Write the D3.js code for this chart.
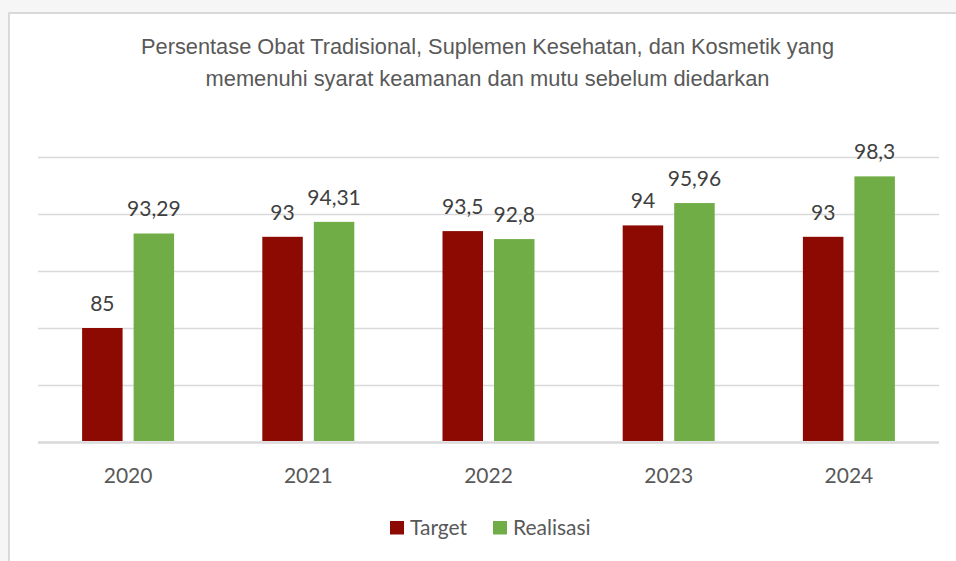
<!DOCTYPE html>
<html>
<head>
<meta charset="utf-8">
<script src="https://cdn.jsdelivr.net/npm/d3@7"></script>
<style>
  html, body { margin: 0; padding: 0; background: #f6f6f6; }
  svg { display: block; }
</style>
</head>
<body>
<div id="chart"></div>
<script>
const years = ["2020", "2021", "2022", "2023", "2024"];
const seriesNames = ["Target", "Realisasi"];
const target = [85, 93, 93.5, 94, 93];
const realisasi = [93.29, 94.31, 92.8, 95.96, 98.3];
const yTicks = [75, 80, 85, 90, 95, 100];
const titleLines = [
    "Persentase Obat Tradisional, Suplemen Kesehatan, dan Kosmetik yang",
    "memenuhi syarat keamanan dan mutu sebelum diedarkan"
];
const titleWidths = [693, 564];
const colors = ["#8c0a02", "#70ad47"];

const W = 956, H = 561;
const margin = { top: 157, left: 38, right: 17, bottom: 119 };
const width = W - margin.left - margin.right,
      height = H - margin.top - margin.bottom;

const svg = d3.select("#chart").append("svg")
    .attr("width", W)
    .attr("height", H);

// chart box
svg.append("rect")
   .attr("x", 9).attr("y", 13)
   .attr("width", W + 10).attr("height", H + 10)
   .attr("fill", "#fff")
   .attr("stroke", "#d9d9d9")
   .attr("stroke-width", 2);

// title (narrow look: squeezed to the measured width)
svg.selectAll(".title")
   .data(titleLines)
   .enter().append("text")
   .attr("class", "title")
   .attr("x", 487.5)
   .attr("y", (d, i) => 54 + i * 31.5)
   .attr("text-anchor", "middle")
   .attr("textLength", (d, i) => titleWidths[i])
   .attr("lengthAdjust", "spacingAndGlyphs")
   .style("font-family", "'Liberation Sans', Arial, sans-serif")
   .style("font-size", "22px")
   .style("fill", "#595959")
   .text(d => d);

const g = svg.append("g").attr("transform", `translate(${margin.left},${margin.top})`);

const x0 = d3.scaleBand().domain(years).range([0, width]).padding(0);
const x1 = d3.scaleBand().domain(seriesNames).range([0, 92]).paddingInner(0.214);
const y = d3.scaleLinear().domain([75, 100]).range([height, 0]);
const color = d3.scaleOrdinal().domain(seriesNames).range(colors);

// gridlines
g.append("g")
 .call(d3.axisLeft(y).tickValues(yTicks).tickSize(-width).tickFormat(""))
 .call(a => a.select(".domain").remove())
 .call(a => a.selectAll("line")
    .attr("stroke", "#d9d9d9")
    .attr("stroke-width", d => d === 75 ? 2.5 : 1.5));

const rows = years.map((yr, i) => ({ year: yr, values: [target[i], realisasi[i]] }));

const groups = g.selectAll(".grp")
    .data(rows)
    .enter().append("g")
    .attr("transform", d => `translate(${x0(d.year) + (x0.bandwidth() - 92) / 2},0)`);

const bars = groups.selectAll("rect")
    .data(d => d.values.map((v, j) => ({ key: seriesNames[j], value: v })))
    .enter();

bars.append("rect")
    .attr("x", d => x1(d.key))
    .attr("y", d => y(d.value))
    .attr("width", x1.bandwidth())
    .attr("height", d => height - y(d.value) - 1)
    .attr("fill", d => color(d.key));

bars.append("text")
    .attr("x", d => x1(d.key) + x1.bandwidth() / 2)
    .attr("y", d => y(d.value) - 17)
    .attr("text-anchor", "middle")
    .style("font-family", "Lato, 'Open Sans', sans-serif")
    .style("font-size", "21px")
    .style("fill", "#404040")
    .text(d => String(d.value).replace(".", ","));

// x axis labels
g.append("g")
 .attr("transform", `translate(0,${height})`)
 .call(d3.axisBottom(x0).tickSize(0).tickPadding(0))
 .call(a => a.select(".domain").remove())
 .call(a => a.selectAll("text")
    .attr("dy", 0)
    .attr("y", 40.5)
    .style("font-family", "Lato, 'Open Sans', sans-serif")
    .style("font-size", "21px")
    .style("fill", "#595959"));

// legend
const legendX = [390, 493];
const legend = svg.selectAll(".legend")
    .data(seriesNames)
    .enter().append("g")
    .attr("transform", (d, i) => `translate(${legendX[i]},521)`);

legend.append("rect")
    .attr("width", 14).attr("height", 13.5)
    .attr("fill", d => color(d));

legend.append("text")
    .attr("x", 20).attr("y", 14)
    .style("font-family", "Lato, 'Open Sans', sans-serif")
    .style("font-size", "21px")
    .style("fill", "#595959")
    .text(d => d);
</script>
</body>
</html>
